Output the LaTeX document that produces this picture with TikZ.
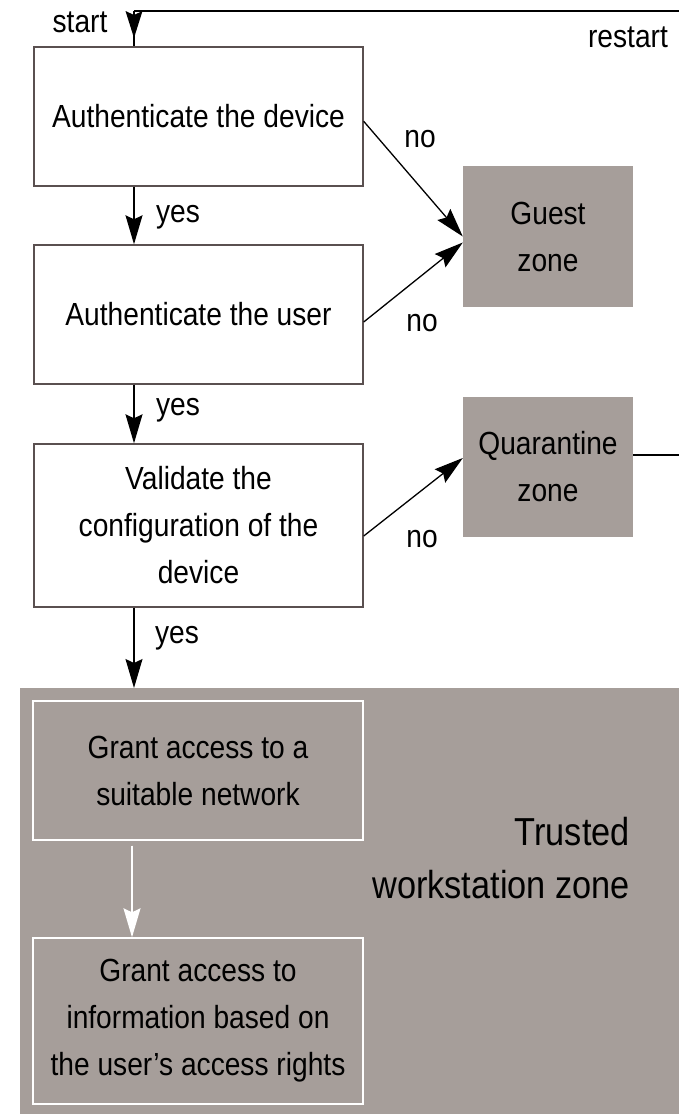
\documentclass[tikz,border=0pt]{standalone}
\usepackage{fontspec}
\setmainfont{Liberation Sans}[FakeStretch=0.88]
\usetikzlibrary{arrows.meta}
\definecolor{zonegray}{HTML}{A69E9A}
\definecolor{edgegray}{HTML}{5A5050}
\begin{document}
\begin{tikzpicture}[x=1pt,y=-1pt,
  every node/.style={font=\fontsize{32}{47}\selectfont, inner sep=0pt},
  stepbox/.style={draw=edgegray, line width=1.4pt, fill=white,
    minimum width=329pt, align=center},
  zonebox/.style={fill=zonegray, minimum width=170pt, align=center},
  innerbox/.style={draw=white, line width=1.4pt, minimum width=330pt, align=center},
  headtip/.style={-{Stealth[length=29pt,width=17pt,inset=4pt]}},
  flow/.style={line width=1.3pt, headtip},
  loop/.style={line width=1.3pt}
]
\useasboundingbox (0,0) rectangle (678,1119);

% trusted workstation zone (runs past the right edge)
\node[fill=zonegray, minimum width=700pt, minimum height=426pt, anchor=north west]
  (tz) at (19.5,688) {};

% decision steps
\node[stepbox, minimum height=139pt] (b1) at (198.5,116.5) {Authenticate the device};
\node[stepbox, minimum height=139pt] (b2) at (198.5,314.5) {Authenticate the user};
\node[stepbox, minimum height=163pt] (b3) at (198.5,525.5)
  {Validate the\\configuration of the\\device};

% side zones
\node[zonebox, minimum height=141pt] (gz) at (548,236.5) {Guest\\zone};
\node[zonebox, minimum height=140pt] (qz) at (548,467) {Quarantine\\zone};

% steps inside the trusted zone
\node[innerbox, minimum height=139pt] (ga) at (198,770.5)
  {Grant access to a\\suitable network};
\node[innerbox, minimum height=166pt] (gb) at (198,1021)
  {Grant access to\\information based on\\the user's access rights};
\node[align=right, anchor=east, font=\fontsize{39}{53}\selectfont] (tw) at (630,858)
  {Trusted\\workstation zone};

% reference points for the vertical flow lines and the restart loop
\coordinate (ax) at (134,0);
\coordinate (wx) at (132,0);
\coordinate (st) at (134,11);
\coordinate (sa) at (134,38);
\coordinate (rc) at (690,455);

% start and restart: the head sits right under the top line
\draw[loop] ([yshift=12pt]qz.east) -- (rc) |- (st);
\draw[loop] (st) -- (b1.north -| st);
\fill (st) ++(-8.5,0) -- ++(8.5,4) -- ++(8.5,-4) -- (sa) -- cycle;
\node (ls) at (80,22) {start};
\node (lr) at (628,37) {restart};

% yes branches
\draw[flow] (b1.south -| ax) -- (b2.north -| ax);
\draw[flow] (b2.south -| ax) -- (b3.north -| ax);
\draw[flow] (b3.south -| ax) -- (tz.north -| ax);
\node (y1) at (178,217) {yes};
\node (y2) at (178,410) {yes};
\node (y3) at (177,638) {yes};

% no branches
\draw[flow] ([yshift=-75pt]b1.north east) -- (gz.west);
\draw[flow] ([yshift=-7.5pt]b2.east) -- ([yshift=-6pt]gz.west);
\draw[flow] ([yshift=-10.5pt]b3.east) -- ([yshift=9pt]qz.west);
\node (n1) at (420,139) {no};
\node (n2) at (422,323) {no};
\node (n3) at (422,539) {no};

% flow inside the trusted zone
\draw[flow, draw=white, fill=white] ([yshift=-5pt]ga.south -| wx) -- (gb.north -| wx);
\end{tikzpicture}
\end{document}
